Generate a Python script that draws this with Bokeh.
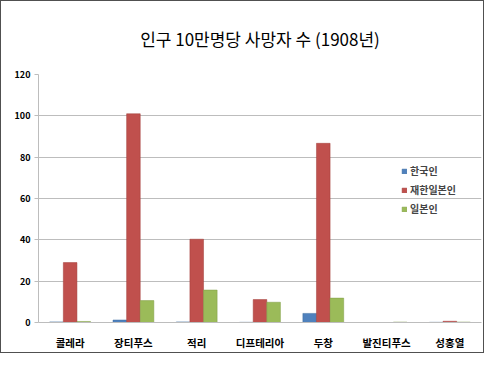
from bokeh.plotting import figure
from bokeh.models import ColumnDataSource, FactorRange, Legend, LegendItem, Title
from bokeh.transform import dodge
from bokeh.embed import file_html
from bokeh.resources import INLINE

categories = ["콜레라", "장티푸스", "적리", "디프테리아", "두창", "발진티푸스", "성홍열"]
korean = [0.3, 1.2, 0.3, 0.1, 4.4, 0.0, 0.1]
japanese_in_korea = [29.0, 101.0, 40.3, 11.1, 86.7, 0.0, 0.6]
japanese = [0.5, 10.6, 15.7, 9.8, 11.8, 0.2, 0.2]
series_names = ["한국인", "재한일본인", "일본인"]
y_ticks = [0, 20, 40, 60, 80, 100, 120]

src = ColumnDataSource(dict(cat=categories, k=korean, jk=japanese_in_korea, j=japanese))

FONT = "Noto Sans CJK KR"
W, H = 484, 353
ML, MR, MT, MB = 37, 4, 73, 32
p = figure(x_range=FactorRange(*categories), y_range=(0, 120), width=W, height=H,
           output_backend="svg", toolbar_location=None,
           min_border_left=ML, min_border_right=MR, min_border_top=MT, min_border_bottom=MB)
p.styles = {"border": "1px solid #505050"}

t = Title(text="인구 10만명당 사망자 수 (1908년)", align="center", vertical_align="middle",
          text_font=FONT, text_font_size="17px", text_font_style="normal",
          text_color="#000000", standoff=46)
p.add_layout(t, "above")

w = 0.215
colors = ["#4F81BD", "#C0504D", "#9BBB59"]
lines = ["#3A6A9E", "#A03C39", "#7F9C45"]
r1 = p.vbar(x=dodge("cat", -w, range=p.x_range), top="k", width=w, source=src,
            fill_color=colors[0], line_color=lines[0], line_width=0.5)
r2 = p.vbar(x=dodge("cat", 0, range=p.x_range), top="jk", width=w, source=src,
            fill_color=colors[1], line_color=lines[1], line_width=0.5)
r3 = p.vbar(x=dodge("cat", w, range=p.x_range), top="j", width=w, source=src,
            fill_color=colors[2], line_color=lines[2], line_width=0.5)

legend = Legend(items=[LegendItem(label=series_names[0], renderers=[r1]),
                       LegendItem(label=series_names[1], renderers=[r2]),
                       LegendItem(label=series_names[2], renderers=[r3])],
                location=(363, 106), background_fill_alpha=0, border_line_color=None,
                label_text_font=FONT, label_text_font_size="10px", label_text_font_style="bold",
                glyph_width=6, glyph_height=6, label_standoff=3, spacing=4, padding=0,
                label_height=11, margin=0)
p.add_layout(legend)

p.xgrid.grid_line_color = None
p.ygrid.grid_line_color = "#BDBDBD"
p.ygrid.grid_line_width = 1
p.yaxis.ticker = y_ticks
p.yaxis.axis_line_color = "#BDBDBD"
p.yaxis.major_tick_line_color = "#BDBDBD"
p.yaxis.major_tick_out = 4
p.yaxis.major_tick_in = 0
p.yaxis.minor_tick_line_color = None
p.yaxis.major_label_standoff = 4
p.yaxis.major_label_text_font = FONT
p.yaxis.major_label_text_font_size = "9px"
p.yaxis.major_label_text_font_style = "bold"
p.yaxis.major_label_text_color = "#000000"

p.xaxis.axis_line_color = "#BDBDBD"
p.xaxis.major_tick_line_color = None
p.xaxis.major_label_standoff = 6
p.xaxis.major_label_text_font = FONT
p.xaxis.major_label_text_font_size = "10.5px"
p.xaxis.major_label_text_font_style = "bold"
p.xaxis.major_label_text_color = "#000000"
p.x_range.range_padding = 0
p.outline_line_color = None

open("out.html", "w").write(file_html(p, INLINE))
